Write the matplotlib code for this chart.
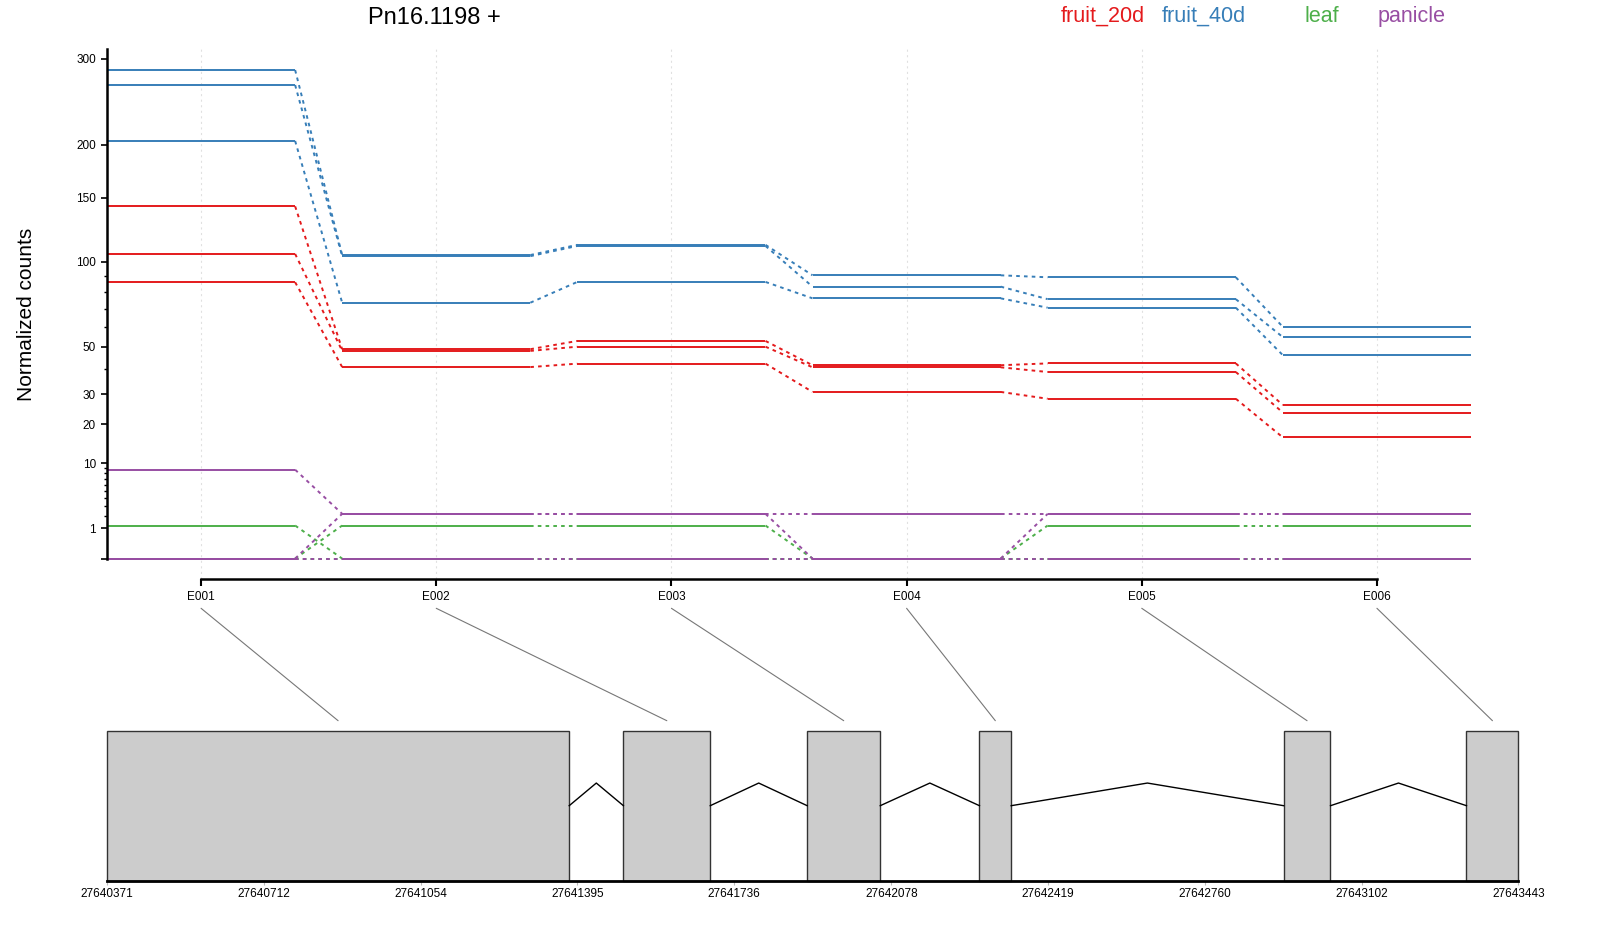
import numpy as np
import matplotlib
matplotlib.use("Agg")
import matplotlib.pyplot as plt
from matplotlib.patches import Rectangle, ConnectionPatch
from matplotlib.transforms import blended_transform_factory

plt.rcParams['font.family'] = ['Liberation Sans', 'DejaVu Sans']
plt.rcParams['lines.scale_dashes'] = False

# datos
gene = 'Pn16.1198 +'
exons = ['E001', 'E002', 'E003', 'E004', 'E005', 'E006']
conditions = ['fruit_20d', 'fruit_40d', 'leaf', 'panicle']
colors = ['#E41A1C', '#377EB8', '#4DAF4A', '#984EA3']

fruit_20d = [[142.5, 48.9, 52.9, 41.6, 42.4, 26.1],
             [105.4, 48.1, 50.1, 40.7, 38.7, 23.6],
             [86.2, 40.8, 42.3, 30.8, 28.3, 16.2]]
fruit_40d = [[285.7, 104.6, 112.0, 90.7, 89.4, 60.1],
             [267.0, 103.8, 111.2, 83.4, 75.7, 54.8],
             [204.0, 73.6, 86.4, 76.2, 70.7, 46.1]]
leaf = [[1.2, 0, 0, 0, 0, 0],
        [0, 1.2, 1.2, 0, 1.2, 1.2],
        [0, 0, 0, 0, 0, 0]]
panicle = [[8.7, 2.2, 2.2, 2.2, 2.2, 2.2],
           [0, 2.2, 2.2, 0, 2.2, 2.2],
           [0, 0, 0, 0, 0, 0]]

y_major = [0, 1, 10, 20, 30, 50, 100, 150, 200, 300]
y_major_labels = ['', '1', '10', '20', '30', '50', '100', '150', '200', '300']
y_minor = [2, 3, 4, 5, 6, 7, 8, 9, 40, 60, 70, 80, 90]

exon_start = [27640371, 27641495, 27641895, 27642270, 27642932, 27643330]
exon_end = [27641377, 27641684, 27642054, 27642339, 27643034, 27643443]
gen_ticks = [27640371, 27640712, 27641054, 27641395, 27641736,
             27642078, 27642419, 27642760, 27643102, 27643443]

# transformacion vst aproximada
C = 0.001


def fwd(x):
    x = np.asarray(x, dtype=float)
    return np.sign(x) * np.arcsinh(np.sqrt(C * np.abs(x))) / np.sqrt(C)


def inv(y):
    y = np.asarray(y, dtype=float)
    return np.sign(y) * np.sinh(np.abs(y) * np.sqrt(C)) ** 2 / C


W, H = 1600, 930
fig = plt.figure(figsize=(W / 100, H / 100), dpi=100)

# panel superior
ax = fig.add_axes([107 / W, 1 - 578.6 / H, (1471 - 107) / W, (578.6 - 49.5) / H])
ax.set_yscale('function', functions=(fwd, inv))
ax.set_xlim(0.6, 6.4)
ax.set_ylim(-0.44, 312.5)

half = 0.4
for cond, col in zip([fruit_20d, fruit_40d, leaf, panicle], colors):
    for rep in cond:
        for i, v in enumerate(rep):
            x = i + 1
            ax.plot([x - half, x + half], [v, v], color=col, lw=1.4,
                    solid_capstyle='butt')
            if i < len(rep) - 1:
                ax.plot([x + half, x + 1 - half], [v, rep[i + 1]], color=col,
                        lw=1.4, dashes=(2.6, 3.0), dash_capstyle='butt')

ax.set_xticks(range(1, len(exons) + 1))
ax.set_xticklabels(exons, fontsize=8.5)
ax.set_yticks(y_major)
ax.set_yticklabels(y_major_labels, fontsize=8.5)
ax.set_yticks(y_minor, minor=True)
ax.tick_params(axis='x', length=5, width=1.5, pad=4)
ax.tick_params(axis='y', which='major', length=4, width=1.2, pad=4)
ax.tick_params(axis='y', which='minor', length=2.5, width=1.0)
ax.xaxis.grid(True, linestyle=(0, (1.5, 2.5)), color='#e0e0e0', lw=0.8)
ax.set_axisbelow(True)
for s in ['top', 'right']:
    ax.spines[s].set_visible(False)
ax.spines['left'].set_linewidth(1.8)
ax.spines['bottom'].set_linewidth(1.8)
ax.spines['left'].set_bounds(0, 312.5)
ax.spines['bottom'].set_bounds(1, 6)
ax.set_ylabel('Normalized counts', fontsize=15, labelpad=29)

# titulo y leyenda
fig.text(434 / W, 1 - 16 / H, gene, fontsize=17, ha='center',
         va='center_baseline')
leg_x = [1103, 1204, 1322, 1412]
for cond, col, lx in zip(conditions, colors, leg_x):
    fig.text(lx / W, 1 - 14 / H, cond, color=col, fontsize=15.5,
             ha='center', va='center_baseline')

# modelo del gen
bx = fig.add_axes([107 / W, 1 - 880.7 / H, (1518.4 - 107) / W, (880.7 - 720) / H])
bx.set_xlim(gen_ticks[0], gen_ticks[-1])
bx.set_ylim(0, 1.0713)
for s, e in zip(exon_start, exon_end):
    bx.add_patch(Rectangle((s, 0), e - s, 1, facecolor='#cccccc',
                           edgecolor='#333333', lw=1.0, clip_on=False))
for i in range(len(exon_start) - 1):
    a = exon_end[i]
    b = exon_start[i + 1]
    bx.plot([a, (a + b) / 2, b], [0.5, 0.651, 0.5], color='black', lw=1.0)
bx.set_yticks([])
bx.set_xticks(gen_ticks)
bx.set_xticklabels([str(t) for t in gen_ticks], fontsize=8.5)
bx.tick_params(axis='x', length=3, color='#bbbbbb', pad=2)
for s in ['top', 'right', 'left']:
    bx.spines[s].set_visible(False)
bx.spines['bottom'].set_linewidth(2)
bx.spines['bottom'].set_zorder(3)

# lineas de union exon -> posicion genomica
ta = blended_transform_factory(ax.transData, fig.transFigure)
tb = blended_transform_factory(bx.transData, fig.transFigure)
for i, (s, e) in enumerate(zip(exon_start, exon_end)):
    con = ConnectionPatch(xyA=(i + 1, 1 - 608.3 / H), coordsA=ta,
                          xyB=((s + e) / 2, 1 - 720.7 / H), coordsB=tb,
                          color='#777777', lw=0.8)
    fig.add_artist(con)

fig.savefig('out.png', dpi=100)
